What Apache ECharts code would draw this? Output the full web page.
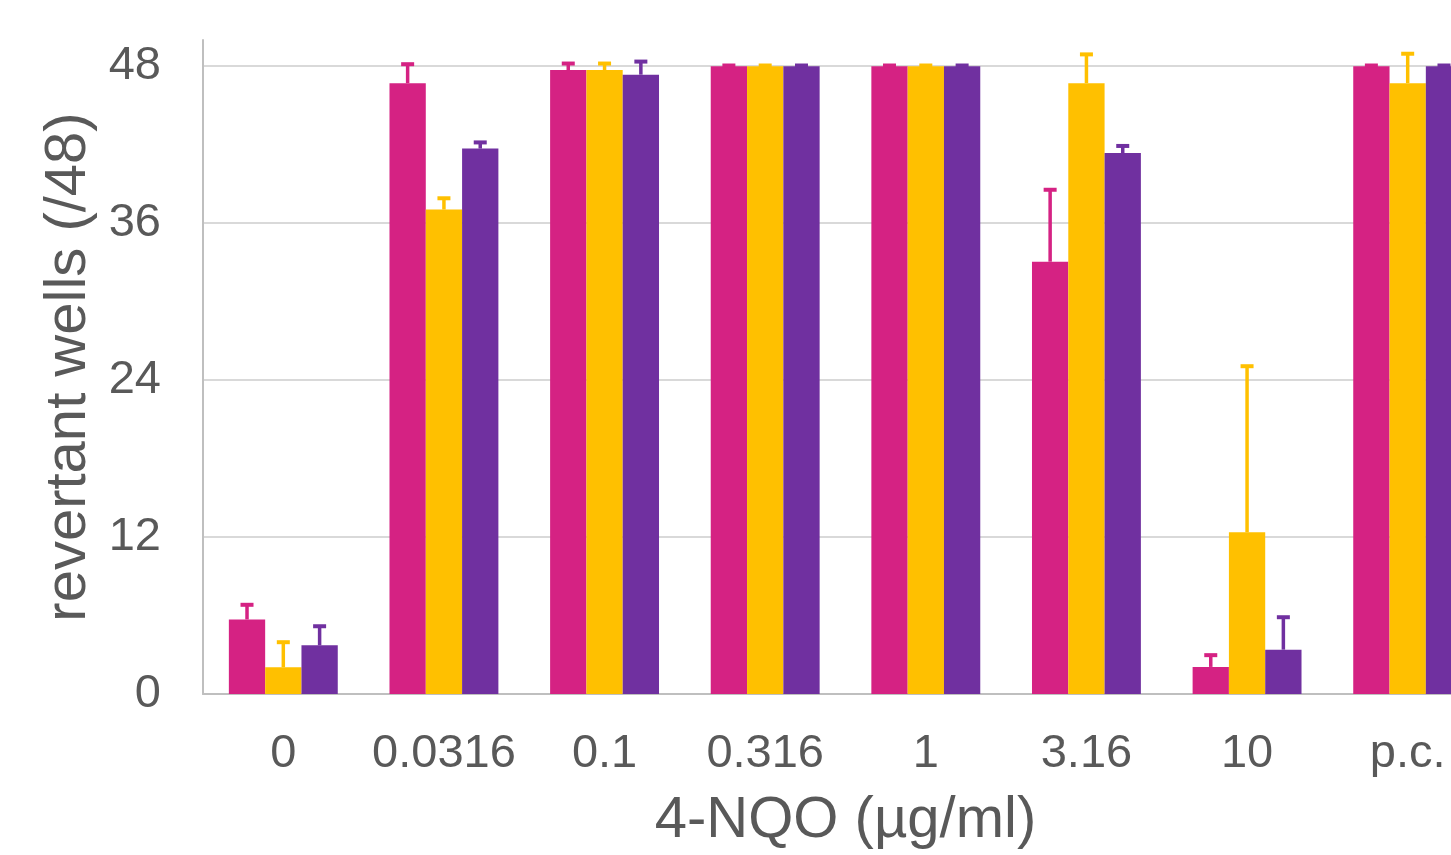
<!DOCTYPE html>
<html>
<head>
<meta charset="utf-8">
<script src="https://cdn.jsdelivr.net/npm/echarts@6/dist/echarts.min.js"></script>
<style>
  html, body { margin: 0; padding: 0; overflow: hidden; background: #fff; }
  #chart { width: 1488px; height: 855px; }
</style>
</head>
<body>
<div id="chart"></div>
<script>
const categories = ["0", "0.0316", "0.1", "0.316", "1", "3.16", "10", "p.c."];
const yTicks = [0, 12, 24, 36, 48];

const magentaVals = [5.7, 46.7, 47.7, 48, 48, 33.05, 2.07, 48];
const yellowVals = [2.04, 37.04, 47.7, 48, 48, 46.7, 12.36, 46.7];
const purpleVals = [3.72, 41.7, 47.35, 48, 48, 41.36, 3.39, 48];

const magentaErr = [1.12, 1.45, 0.5, 0.05, 0.05, 5.5, 0.9, 0.05];
const yellowErr = [1.92, 0.86, 0.5, 0.05, 0.05, 2.2, 12.7, 2.25];
const purpleErr = [1.46, 0.47, 1.0, 0.05, 0.05, 0.54, 2.48, 0.05];

const colors = ["#D52283", "#FFC000", "#7030A0"];
const BAR_W = 36.3;
const textColor = "#595959";
const font = "'Liberation Sans', Arial, sans-serif";

const chart = echarts.init(document.getElementById("chart"));

function barSeries(name, vals, color) {
  return {
    name: name,
    type: "bar",
    data: vals,
    barWidth: BAR_W,
    barGap: "0%",
    itemStyle: { color: color },
    z: 2
  };
}

function errSeries(name, vals, errs, idx, color) {
  return {
    name: name + " err",
    type: "custom",
    silent: true,
    z: 3,
    encode: { x: 0, y: [1, 2] },
    data: vals.map((v, i) => [i, v, v + errs[i]]),
    renderItem: (params, api) => {
      const c = api.value(0);
      const base = api.coord([c, api.value(1)]);
      const top = api.coord([c, api.value(2)]);
      const x = base[0] + (idx - 1) * BAR_W;
      return {
        type: "group",
        children: [
          { type: "line", shape: { x1: x, y1: base[1], x2: x, y2: top[1] }, style: { stroke: color, lineWidth: 3.5 } },
          { type: "rect", shape: { x: x - 6.5, y: top[1] - 2, width: 13, height: 4 }, style: { fill: color } }
        ]
      };
    }
  };
}

const option = {
  animation: false,
  textStyle: { fontFamily: font },
  grid: { left: 203, right: 0, top: 40, bottom: 160 },
  xAxis: {
    type: "category",
    data: categories,
    name: "4-NQO (µg/ml)",
    nameLocation: "middle",
    nameGap: 98,
    nameTextStyle: { fontSize: 58, color: textColor, fontFamily: font },
    axisLine: { lineStyle: { color: "#bfbfbf", width: 2 } },
    axisTick: { show: false },
    axisLabel: { fontSize: 47, color: textColor, margin: 37, fontFamily: font, interval: 0 }
  },
  yAxis: {
    type: "value",
    min: 0,
    max: 50,
    interval: 12,
    name: "revertant wells (/48)",
    nameLocation: "middle",
    nameGap: 98,
    nameTextStyle: { fontSize: 58, color: textColor, fontFamily: font },
    axisLine: { show: true, lineStyle: { color: "#bfbfbf", width: 2 } },
    axisTick: { show: false },
    axisLabel: {
      fontSize: 47, color: textColor, margin: 42, fontFamily: font, showMaxLabel: false,
      formatter: v => (yTicks.indexOf(v) >= 0 ? String(v) : "")
    },
    splitLine: {
      show: true,
      lineStyle: { color: ["#d9d9d9", "#d9d9d9", "#d9d9d9", "#d9d9d9", "#d9d9d9", "rgba(0,0,0,0)"], width: 2 }
    }
  },
  series: [
    barSeries("A", magentaVals, colors[0]),
    barSeries("B", yellowVals, colors[1]),
    barSeries("C", purpleVals, colors[2]),
    errSeries("A", magentaVals, magentaErr, 0, colors[0]),
    errSeries("B", yellowVals, yellowErr, 1, colors[1]),
    errSeries("C", purpleVals, purpleErr, 2, colors[2])
  ]
};

chart.setOption(option);
</script>
</body>
</html>
